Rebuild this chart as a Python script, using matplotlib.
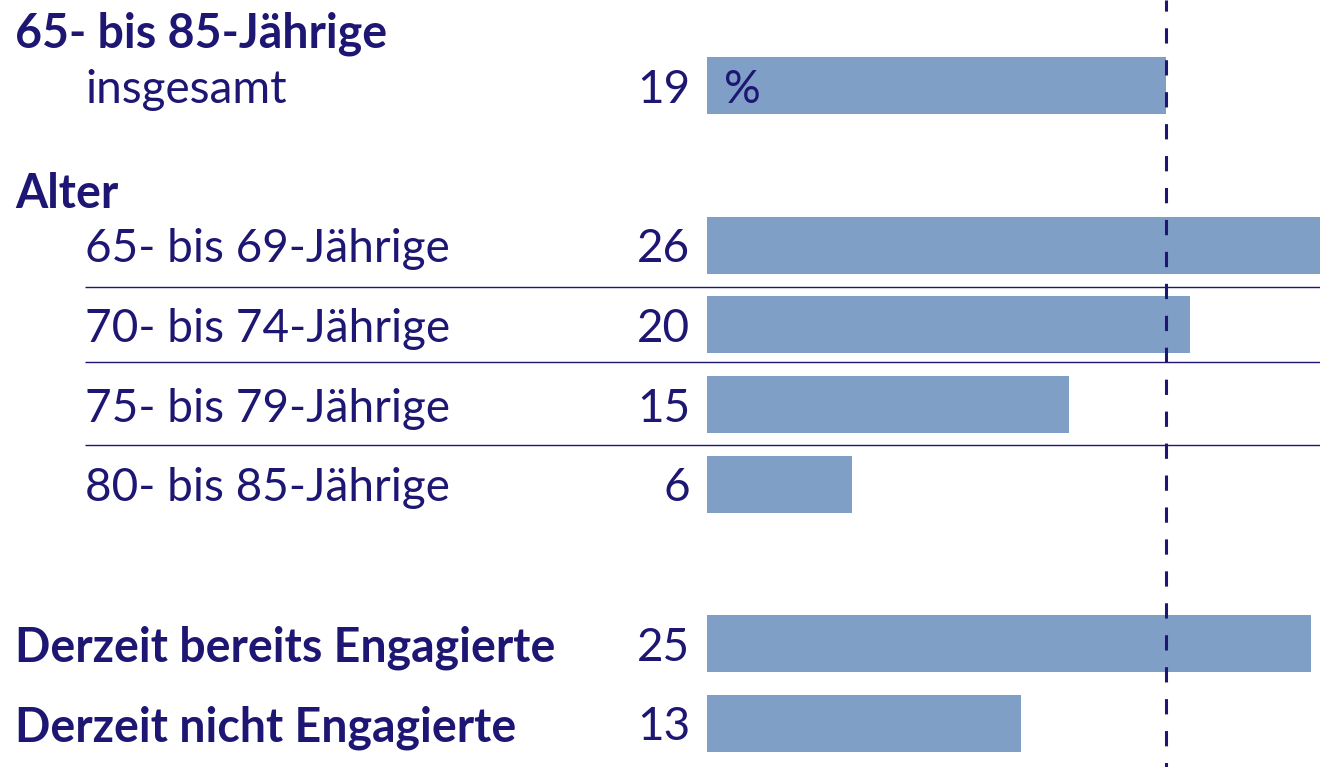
import matplotlib
matplotlib.use("Agg")
import matplotlib.pyplot as plt

# Data
labels = ["insgesamt", "65- bis 69-Jährige", "70- bis 74-Jährige", "75- bis 79-Jährige",
          "80- bis 85-Jährige", "Derzeit bereits Engagierte", "Derzeit nicht Engagierte"]
values = [19, 26, 20, 15, 6, 25, 13]
bold_labels = [False, False, False, False, False, True, True]
label_indent = [85, 85, 85, 85, 85, 15, 15]   # pixel x for labels
slots = [1, 3, 4, 5, 6, 8, 9]                   # row slots
headers = ["65- bis 85-Jährige", "Alter"]
header_y = [34, 194]
reference_value = 19

W, H = 1320, 767
BAR_COLOR = "#809fc6"
TEXT_COLOR = "#1e1673"
FONT = "Lato"

px_per_unit = 24.15
x0_px = 707

plt.rcParams["lines.scale_dashes"] = False

fig = plt.figure(figsize=(W / 100, H / 100), dpi=100)
ax = fig.add_axes([0, 0, 1, 1])
ax.set_xlim(-x0_px / px_per_unit, (W - x0_px) / px_per_unit)
ax.set_ylim(H, 0)
ax.axis("off")

def px_to_x(px):
    return (px - x0_px) / px_per_unit

ys = [s * 79.7 + 6 for s in slots]
ax.barh(ys, values, height=57, left=0, color=BAR_COLOR, zorder=1)

# separator lines between age rows
for yy in [287, 362, 445]:
    ax.plot([px_to_x(85), px_to_x(W)], [yy, yy], color=TEXT_COLOR, lw=1.0, zorder=2,
            solid_capstyle="butt")

# dashed reference line
ax.plot([reference_value, reference_value], [0, H], color=TEXT_COLOR, lw=2.2,
        linestyle=(3, (11, 12)), zorder=3)

fs = 33
fsb = 33.5
for lab, v, y, b, ind in zip(labels, values, ys, bold_labels, label_indent):
    ax.text(px_to_x(ind), y + 4, lab, fontsize=fsb if b else fs, family=FONT,
            fontweight="bold" if b else "normal", color=TEXT_COLOR,
            ha="left", va="center")
    ax.text(px_to_x(690), y + 4, str(v), fontsize=fs, family=FONT, color=TEXT_COLOR,
            ha="right", va="center")

ax.text(px_to_x(724), ys[0] + 4, "%", fontsize=fs, family=FONT, color=TEXT_COLOR,
        ha="left", va="center")

for h, hy in zip(headers, header_y):
    ax.text(px_to_x(15), hy, h, fontsize=fsb, family=FONT, fontweight="bold",
            color=TEXT_COLOR, ha="left", va="center")

fig.savefig("out.png", dpi=100)
